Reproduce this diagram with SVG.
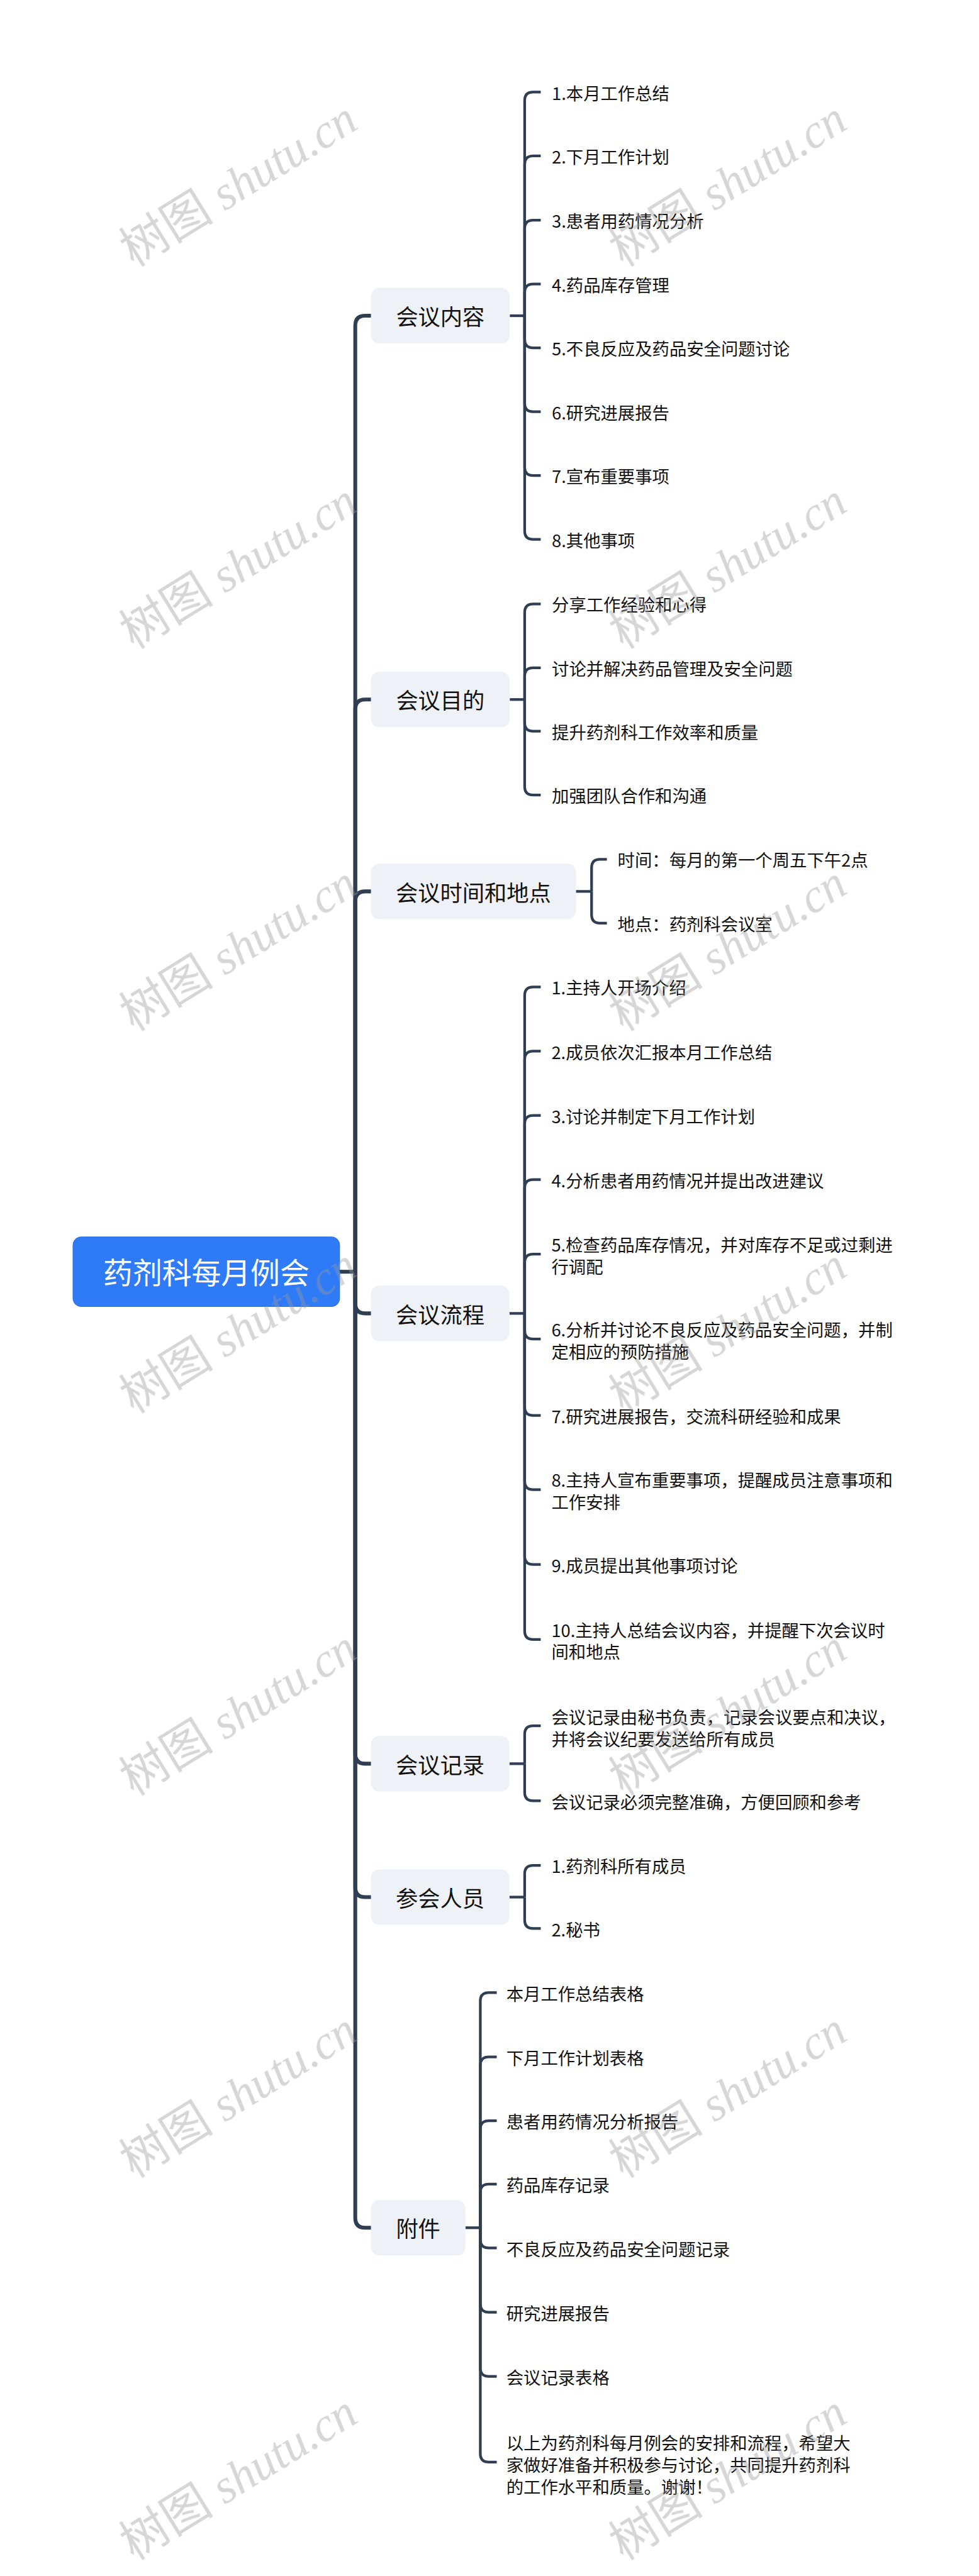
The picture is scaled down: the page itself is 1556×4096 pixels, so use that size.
<svg xmlns="http://www.w3.org/2000/svg" width="1556" height="4096" viewBox="0 0 1556 4096">
<style>
.cn{fill:none;stroke:#2f3e52;stroke-linejoin:round}
.tr{stroke-width:10}
.sb{stroke-width:7}
.bx{fill:#eef1f5}
.bt{font-family:"Noto Sans CJK SC","Noto Sans",sans-serif;font-size:58px;fill:#111;text-anchor:middle}
.lf{font-family:"Noto Sans CJK SC","Noto Sans",sans-serif;font-size:45px;fill:#111}
.wm{font-family:"Liberation Serif","Noto Sans CJK SC",serif;font-size:124px;fill:#9a9a9a;opacity:0.4}
</style>
<rect width="1556" height="4096" fill="#fff"/>
<g transform="scale(0.6078)">
<g id="connectors">
<path class="cn tr" d="M888 3327H929"/>
<path class="cn tr" d="M929 3327V852Q929 826 955 826H972"/>
<path class="cn tr" d="M929 3327V1856Q929 1830 955 1830H972"/>
<path class="cn tr" d="M929 3327V2358Q929 2332 955 2332H972"/>
<path class="cn tr" d="M929 3327V3410Q929 3436 955 3436H972"/>
<path class="cn tr" d="M929 3327V4588Q929 4614 955 4614H972"/>
<path class="cn tr" d="M929 3327V4937Q929 4963 955 4963H972"/>
<path class="cn tr" d="M929 3327V5802Q929 5828 955 5828H972"/>

<path class="cn sb" d="M1333 826H1372"/>
<path class="cn sb" d="M1372 826V263Q1372 241 1394 241H1414"/>
<path class="cn sb" d="M1372 826V430Q1372 408 1394 408H1414"/>
<path class="cn sb" d="M1372 826V598Q1372 576 1394 576H1414"/>
<path class="cn sb" d="M1372 826V765Q1372 743 1394 743H1414"/>
<path class="cn sb" d="M1372 826V888Q1372 910 1394 910H1414"/>
<path class="cn sb" d="M1372 826V1055Q1372 1077 1394 1077H1414"/>
<path class="cn sb" d="M1372 826V1222Q1372 1244 1394 1244H1414"/>
<path class="cn sb" d="M1372 826V1389Q1372 1411 1394 1411H1414"/>

<path class="cn sb" d="M1333 1830H1372"/>
<path class="cn sb" d="M1372 1830V1602Q1372 1580 1394 1580H1414"/>
<path class="cn sb" d="M1372 1830V1769Q1372 1747 1394 1747H1414"/>
<path class="cn sb" d="M1372 1830V1891Q1372 1913 1394 1913H1414"/>
<path class="cn sb" d="M1372 1830V2058Q1372 2080 1394 2080H1414"/>

<path class="cn sb" d="M1506 2332H1547"/>
<path class="cn sb" d="M1547 2332V2270Q1547 2248 1569 2248H1587"/>
<path class="cn sb" d="M1547 2332V2393Q1547 2415 1569 2415H1587"/>

<path class="cn sb" d="M1332 3436H1372"/>
<path class="cn sb" d="M1372 3436V2604Q1372 2582 1394 2582H1414"/>
<path class="cn sb" d="M1372 3436V2772Q1372 2750 1394 2750H1414"/>
<path class="cn sb" d="M1372 3436V2940Q1372 2918 1394 2918H1414"/>
<path class="cn sb" d="M1372 3436V3108Q1372 3086 1394 3086H1414"/>
<path class="cn sb" d="M1372 3436V3303Q1372 3281 1394 3281H1414"/>
<path class="cn sb" d="M1372 3436V3481Q1372 3503 1394 3503H1414"/>
<path class="cn sb" d="M1372 3436V3681Q1372 3703 1394 3703H1414"/>
<path class="cn sb" d="M1372 3436V3875Q1372 3897 1394 3897H1414"/>
<path class="cn sb" d="M1372 3436V4071Q1372 4093 1394 4093H1414"/>
<path class="cn sb" d="M1372 3436V4267Q1372 4289 1394 4289H1414"/>

<path class="cn sb" d="M1332 4614H1372"/>
<path class="cn sb" d="M1372 4614V4537Q1372 4515 1394 4515H1414"/>
<path class="cn sb" d="M1372 4614V4689Q1372 4711 1394 4711H1414"/>

<path class="cn sb" d="M1332 4963H1372"/>
<path class="cn sb" d="M1372 4963V4902Q1372 4880 1394 4880H1414"/>
<path class="cn sb" d="M1372 4963V5023Q1372 5045 1394 5045H1414"/>

<path class="cn sb" d="M1217 5828H1256"/>
<path class="cn sb" d="M1256 5828V5235Q1256 5213 1278 5213H1299"/>
<path class="cn sb" d="M1256 5828V5403Q1256 5381 1278 5381H1299"/>
<path class="cn sb" d="M1256 5828V5570Q1256 5548 1278 5548H1299"/>
<path class="cn sb" d="M1256 5828V5736Q1256 5714 1278 5714H1299"/>
<path class="cn sb" d="M1256 5828V5859Q1256 5881 1278 5881H1299"/>
<path class="cn sb" d="M1256 5828V6027Q1256 6049 1278 6049H1299"/>
<path class="cn sb" d="M1256 5828V6195Q1256 6217 1278 6217H1299"/>
<path class="cn sb" d="M1256 5828V6419Q1256 6441 1278 6441H1299"/>
</g>

<g id="root">
<rect x="191" y="3236" width="697" height="182" rx="22" fill="#2f7bf7" stroke="#2a6fe6" stroke-width="2"/>
<text x="539.5" y="3358" font-family="Noto Sans CJK SC,Noto Sans,sans-serif" font-size="77" fill="#fff" text-anchor="middle">药剂科每月例会</text>
</g>

<g id="b1"><rect class="bx" x="970" y="753.5" width="363" height="145" rx="22"/><text class="bt" x="1151.5" y="851">会议内容</text></g>
<g id="b2"><rect class="bx" x="970" y="1757.5" width="363" height="145" rx="22"/><text class="bt" x="1151.5" y="1855">会议目的</text></g>
<g id="b3"><rect class="bx" x="970" y="2259.5" width="536" height="145" rx="22"/><text class="bt" x="1238" y="2357">会议时间和地点</text></g>
<g id="b4"><rect class="bx" x="970" y="3363.5" width="362" height="145" rx="22"/><text class="bt" x="1151" y="3461">会议流程</text></g>
<g id="b5"><rect class="bx" x="970" y="4541.5" width="362" height="145" rx="22"/><text class="bt" x="1151" y="4639">会议记录</text></g>
<g id="b6"><rect class="bx" x="970" y="4890.5" width="362" height="145" rx="22"/><text class="bt" x="1151" y="4988">参会人员</text></g>
<g id="b7"><rect class="bx" x="970" y="5755.5" width="247" height="145" rx="22"/><text class="bt" x="1093.5" y="5853">附件</text></g>

<g id="b1-leaves">
<text class="lf" x="1443" y="261">1.本月工作总结</text>
<text class="lf" x="1443" y="428">2.下月工作计划</text>
<text class="lf" x="1443" y="596">3.患者用药情况分析</text>
<text class="lf" x="1443" y="763">4.药品库存管理</text>
<text class="lf" x="1443" y="930">5.不良反应及药品安全问题讨论</text>
<text class="lf" x="1443" y="1097">6.研究进展报告</text>
<text class="lf" x="1443" y="1264">7.宣布重要事项</text>
<text class="lf" x="1443" y="1431">8.其他事项</text>
</g>
<g id="b2-leaves">
<text class="lf" x="1443" y="1600">分享工作经验和心得</text>
<text class="lf" x="1443" y="1767">讨论并解决药品管理及安全问题</text>
<text class="lf" x="1443" y="1933">提升药剂科工作效率和质量</text>
<text class="lf" x="1443" y="2100">加强团队合作和沟通</text>
</g>
<g id="b3-leaves">
<text class="lf" x="1615" y="2268">时间：每月的第一个周五下午2点</text>
<text class="lf" x="1615" y="2435">地点：药剂科会议室</text>
</g>
<g id="b4-leaves">
<text class="lf" x="1442" y="2602">1.主持人开场介绍</text>
<text class="lf" x="1442" y="2770">2.成员依次汇报本月工作总结</text>
<text class="lf" x="1442" y="2938">3.讨论并制定下月工作计划</text>
<text class="lf" x="1442" y="3106">4.分析患者用药情况并提出改进建议</text>
<text class="lf" x="1442" y="3274">5.检查药品库存情况，并对库存不足或过剩进<tspan x="1442" dy="57">行调配</tspan></text>
<text class="lf" x="1442" y="3496">6.分析并讨论不良反应及药品安全问题，并制<tspan x="1442" dy="57">定相应的预防措施</tspan></text>
<text class="lf" x="1442" y="3723">7.研究进展报告，交流科研经验和成果</text>
<text class="lf" x="1442" y="3890">8.主持人宣布重要事项，提醒成员注意事项和<tspan x="1442" dy="57">工作安排</tspan></text>
<text class="lf" x="1442" y="4113">9.成员提出其他事项讨论</text>
<text class="lf" x="1442" y="4282">10.主持人总结会议内容，并提醒下次会议时<tspan x="1442" dy="57">间和地点</tspan></text>
</g>
<g id="b5-leaves">
<text class="lf" x="1442" y="4510">会议记录由秘书负责，记录会议要点和决议，<tspan x="1442" dy="57">并将会议纪要发送给所有成员</tspan></text>
<text class="lf" x="1442" y="4731">会议记录必须完整准确，方便回顾和参考</text>
</g>
<g id="b6-leaves">
<text class="lf" x="1442" y="4900">1.药剂科所有成员</text>
<text class="lf" x="1442" y="5065">2.秘书</text>
</g>
<g id="b7-leaves">
<text class="lf" x="1324" y="5233">本月工作总结表格</text>
<text class="lf" x="1324" y="5401">下月工作计划表格</text>
<text class="lf" x="1324" y="5568">患者用药情况分析报告</text>
<text class="lf" x="1324" y="5734">药品库存记录</text>
<text class="lf" x="1324" y="5901">不良反应及药品安全问题记录</text>
<text class="lf" x="1324" y="6069">研究进展报告</text>
<text class="lf" x="1324" y="6237">会议记录表格</text>
<text class="lf" x="1324" y="6408">以上为药剂科每月例会的安排和流程，希望大<tspan x="1324" dy="57.5">家做好准备并积极参与讨论，共同提升药剂科</tspan><tspan x="1324" dy="57.5">的工作水平和质量。谢谢！</tspan></text>
</g>

<g id="watermarks" class="wm">
<text transform="translate(350 700) rotate(-31.7)">树图 <tspan font-style="italic">shutu.cn</tspan></text>
<text transform="translate(1630 700) rotate(-31.7)">树图 <tspan font-style="italic">shutu.cn</tspan></text>
<text transform="translate(350 1700) rotate(-31.7)">树图 <tspan font-style="italic">shutu.cn</tspan></text>
<text transform="translate(1630 1700) rotate(-31.7)">树图 <tspan font-style="italic">shutu.cn</tspan></text>
<text transform="translate(350 2700) rotate(-31.7)">树图 <tspan font-style="italic">shutu.cn</tspan></text>
<text transform="translate(1630 2700) rotate(-31.7)">树图 <tspan font-style="italic">shutu.cn</tspan></text>
<text transform="translate(350 3700) rotate(-31.7)">树图 <tspan font-style="italic">shutu.cn</tspan></text>
<text transform="translate(1630 3700) rotate(-31.7)">树图 <tspan font-style="italic">shutu.cn</tspan></text>
<text transform="translate(350 4700) rotate(-31.7)">树图 <tspan font-style="italic">shutu.cn</tspan></text>
<text transform="translate(1630 4700) rotate(-31.7)">树图 <tspan font-style="italic">shutu.cn</tspan></text>
<text transform="translate(350 5700) rotate(-31.7)">树图 <tspan font-style="italic">shutu.cn</tspan></text>
<text transform="translate(1630 5700) rotate(-31.7)">树图 <tspan font-style="italic">shutu.cn</tspan></text>
<text transform="translate(350 6700) rotate(-31.7)">树图 <tspan font-style="italic">shutu.cn</tspan></text>
<text transform="translate(1630 6700) rotate(-31.7)">树图 <tspan font-style="italic">shutu.cn</tspan></text>
</g>
</g>
</svg>
